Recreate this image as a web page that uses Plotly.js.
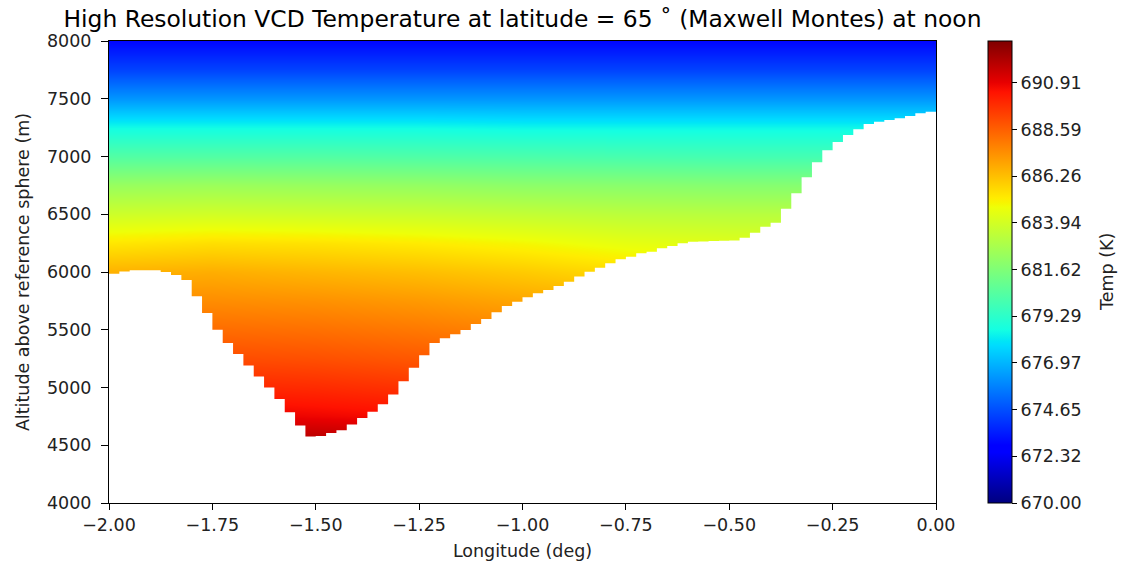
<!DOCTYPE html>
<html>
<head>
<meta charset="utf-8">
<script src="https://cdn.plot.ly/plotly-3.0.1.min.js"></script>
<style>html,body{margin:0;padding:0;background:#fff;}#chart{width:1132px;height:564px;}</style>
</head>
<body>
<div id="chart"></div>
<script>
// Temperature field nodes
const lonNodes = [-2.0, -1.75, -1.5, -1.25, -1.0, -0.75, -0.5, -0.25, 0.0];
const altNodes = [4500, 4750, 5000, 5250, 5500, 5750, 6000, 6250, 6500, 6750, 7000, 7250, 7500, 7750, 8000];
const tempGrid = [
  [692.3, 692.3, 692.2, 692.0, 691.7, 691.4, 691.2, 691.1, 691.1],
  [691.0, 691.0, 690.8, 690.6, 690.4, 690.1, 689.9, 689.8, 689.8],
  [690.0, 690.0, 689.9, 689.7, 689.5, 689.2, 689.0, 688.9, 688.9],
  [689.1, 689.1, 689.0, 688.8, 688.6, 688.3, 688.1, 688.0, 688.0],
  [688.3, 688.3, 688.2, 688.0, 687.7, 687.4, 687.2, 687.1, 687.1],
  [687.5, 687.5, 687.4, 687.2, 686.9, 686.6, 686.4, 686.3, 686.3],
  [686.6, 686.7, 686.5, 686.3, 686.0, 685.6, 685.4, 685.3, 685.3],
  [685.3, 685.5, 685.4, 685.2, 684.9, 684.5, 684.3, 684.2, 684.2],
  [683.8, 683.9, 683.8, 683.7, 683.5, 683.3, 683.2, 683.2, 683.2],
  [682.3, 682.4, 682.3, 682.2, 682.0, 681.9, 681.8, 681.8, 681.8],
  [680.4, 680.4, 680.4, 680.3, 680.2, 680.1, 680.0, 680.0, 680.0],
  [678.6, 678.6, 678.6, 678.6, 678.5, 678.5, 678.5, 678.5, 678.5],
  [676.3, 676.3, 676.3, 676.3, 676.3, 676.3, 676.3, 676.3, 676.3],
  [674.4, 674.4, 674.4, 674.4, 674.4, 674.4, 674.4, 674.4, 674.4],
  [673.0, 673.0, 673.0, 673.0, 673.0, 673.0, 673.0, 673.0, 673.0]
];

// Terrain: column edges (deg) and surface altitude per column (m)
const lonEdges = [-2.0, -1.975, -1.95, -1.925, -1.9, -1.875, -1.85, -1.825, -1.8, -1.775,
  -1.75, -1.725, -1.7, -1.675, -1.65, -1.625, -1.6, -1.575, -1.55, -1.525,
  -1.5, -1.475, -1.45, -1.425, -1.4, -1.375, -1.35, -1.325, -1.3, -1.275,
  -1.25, -1.225, -1.2, -1.175, -1.15, -1.125, -1.1, -1.075, -1.05, -1.025,
  -1.0, -0.975, -0.95, -0.925, -0.9, -0.875, -0.85, -0.825, -0.8, -0.775,
  -0.75, -0.725, -0.7, -0.675, -0.65, -0.625, -0.6, -0.575, -0.55, -0.525,
  -0.5, -0.475, -0.45, -0.425, -0.4, -0.375, -0.35, -0.325, -0.3, -0.275,
  -0.25, -0.225, -0.2, -0.175, -0.15, -0.125, -0.1, -0.075, -0.05, -0.025, 0.0];
const surfaceAlt = [5985, 6005, 6015, 6015, 6015, 6000, 5975, 5930, 5790, 5645,
  5500, 5385, 5290, 5190, 5095, 5000, 4900, 4785, 4670, 4575,
  4580, 4605, 4630, 4680, 4735, 4790, 4855, 4940, 5055, 5170,
  5280, 5385, 5426, 5461, 5498, 5550, 5593, 5651, 5706, 5743,
  5781, 5816, 5844, 5879, 5916, 5960, 6003, 6037, 6075, 6110,
  6133, 6162, 6176, 6205, 6225, 6248, 6262, 6265, 6268, 6270,
  6272, 6297, 6340, 6392, 6427, 6548, 6681, 6820, 6950, 7054,
  7126, 7186, 7235, 7281, 7301, 7316, 7331, 7351, 7374, 7388];

const cbTickVals = [670.00, 672.3233, 674.6467, 676.97, 679.2933, 681.6167, 683.94, 686.2633, 688.5867, 690.91];
const cbTickText = ['670.00', '672.32', '674.65', '676.97', '679.29', '681.62', '683.94', '686.26', '688.59', '690.91'];
const xTickVals = [-2.0, -1.75, -1.5, -1.25, -1.0, -0.75, -0.5, -0.25, 0.0];
const xTickText = ['\u22122.00', '\u22121.75', '\u22121.50', '\u22121.25', '\u22121.00', '\u22120.75', '\u22120.50', '\u22120.25', '0.00'];
const yTickVals = [4000, 4500, 5000, 5500, 6000, 6500, 7000, 7500, 8000];

const jet = [
  [0, 'rgb(0,0,127)'], [0.11, 'rgb(0,0,255)'], [0.125, 'rgb(0,0,255)'],
  [0.34, 'rgb(0,219,255)'], [0.35, 'rgb(0,229,247)'], [0.375, 'rgb(20,255,226)'],
  [0.64, 'rgb(238,255,8)'], [0.65, 'rgb(247,245,0)'], [0.66, 'rgb(255,236,0)'],
  [0.89, 'rgb(255,18,0)'], [0.91, 'rgb(232,0,0)'], [1, 'rgb(127,0,0)']
];

const font = 'DejaVu Sans, Liberation Sans, sans-serif';
const fs = 17.5;

const heat = {
  type: 'heatmap',
  x: lonNodes,
  y: altNodes,
  z: tempGrid,
  zmin: 670.0,
  zmax: 693.0,
  zsmooth: 'best',
  colorscale: jet,
  hoverinfo: 'skip',
  colorbar: {
    x: 1.063, xanchor: 'left', xref: 'paper',
    y: 0.5, yanchor: 'middle', len: 1, lenmode: 'fraction',
    thickness: 24, thicknessmode: 'pixels',
    outlinewidth: 1, outlinecolor: '#000',
    tickmode: 'array', tickvals: cbTickVals, ticktext: cbTickText,
    ticks: 'outside', ticklen: 5, tickwidth: 1, tickcolor: '#000',
    tickfont: {family: font, size: fs, color: '#222'},
    xpad: 0, ypad: 0
  }
};

const terrain = {
  type: 'scatter',
  mode: 'lines',
  x: lonEdges,
  y: surfaceAlt.concat([surfaceAlt[surfaceAlt.length - 1]]),
  line: {shape: 'hv', width: 0, color: 'rgba(255,255,255,0)'},
  fill: 'tozeroy',
  fillcolor: '#ffffff',
  hoverinfo: 'skip',
  showlegend: false
};

const layout = {
  width: 1132, height: 564,
  margin: {l: 109, r: 196, t: 41, b: 61, pad: 0},
  paper_bgcolor: '#fff', plot_bgcolor: '#fff',
  showlegend: false,
  font: {family: font, size: fs, color: '#222'},
  title: {
    text: 'High Resolution VCD Temperature at latitude = 65 \u02DA (Maxwell Montes) at noon',
    font: {family: font, size: 23.4, color: '#000'},
    x: 0.5, xref: 'paper', xanchor: 'center',
    y: 1, yref: 'paper', yanchor: 'bottom', pad: {b: 14}
  },
  annotations: [{
    text: 'Temp (K)', xref: 'paper', yref: 'paper', x: 1.2068, y: 0.5,
    xanchor: 'center', yanchor: 'middle', textangle: -90, showarrow: false,
    font: {family: font, size: fs, color: '#222'}
  }],
  xaxis: {
    range: [-2, 0], tickmode: 'array', tickvals: xTickVals, ticktext: xTickText,
    ticks: 'outside', ticklen: 6, tickwidth: 1, tickcolor: '#000',
    showline: true, mirror: true, linecolor: '#000', linewidth: 1,
    showgrid: false, zeroline: false,
    tickfont: {family: font, size: fs, color: '#222'},
    title: {text: 'Longitude (deg)', font: {family: font, size: fs, color: '#222'}, standoff: 10}
  },
  yaxis: {
    range: [4000, 8000], tickmode: 'array', tickvals: yTickVals,
    ticks: 'outside', ticklen: 7, tickwidth: 1, tickcolor: '#000',
    ticklabelstandoff: 6,
    showline: true, mirror: true, linecolor: '#000', linewidth: 1,
    showgrid: false, zeroline: false,
    tickfont: {family: font, size: fs, color: '#222'},
    title: {text: 'Altitude above reference sphere (m)', font: {family: font, size: fs, color: '#222'}, standoff: 12}
  }
};

Plotly.newPlot('chart', [heat, terrain], layout, {displayModeBar: false, staticPlot: true});
</script>
</body>
</html>
